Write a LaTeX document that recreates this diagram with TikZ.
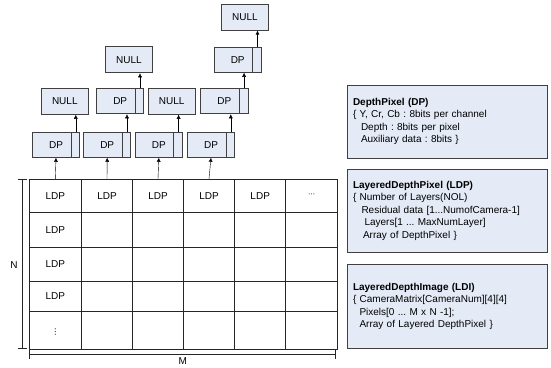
\documentclass[tikz,border=0pt]{standalone}
\usepackage{fontspec}
\setmainfont{Liberation Sans}
\newfontfamily\symfont{DejaVu Sans}
\usetikzlibrary{arrows.meta}
\definecolor{boxfill}{RGB}{228,234,246}
\definecolor{boxline}{RGB}{64,64,64}
\frenchspacing

\tikzset{
  txt/.style={font=\fontsize{10}{12.5}\selectfont},
  cellbox/.style={txt, draw=boxline, fill=boxfill, line width=0.9pt, inner sep=0pt, minimum height=25pt},
  nullbox/.style={cellbox, minimum width=47pt, minimum height=26pt},
  dpbox/.style={cellbox, minimum width=47.4pt,
    path picture={\draw[boxline, line width=0.9pt]
      ([xshift=-8.7pt]path picture bounding box.north east) --
      ([xshift=-8.7pt]path picture bounding box.south east);}},
  ldpcell/.style={txt, inner sep=0pt, minimum width=50pt, minimum height=33.3pt},
  infobox/.style={txt, draw=boxline, fill=boxfill, line width=0.9pt, align=left,
    text width=189pt, inner xsep=5.5pt, inner ysep=0pt, minimum width=200pt},
  gridline/.style={black!85, line width=0.8pt}
}

\begin{document}
\begin{tikzpicture}[x=1pt, y=1pt, >={Latex[length=4pt,width=4pt]}]
    \useasboundingbox (0,0) rectangle (551,-367);

    % LDI grid
    \foreach \x in {29.3,81.3,132.7,183.3,234.7,285.7,337.7}
        \draw[gridline] (\x,-179) -- (\x,-349);
    \foreach \y in {179,212.3,247,281.5,311.7,349}
        \draw[gridline] (29.3,-\y) -- (337.7,-\y);

    \node[ldpcell] (ldp1) at (55.3,-195.6) {LDP};
    \node[ldpcell] (ldp2) at (107,-195.6) {LDP};
    \node[ldpcell] (ldp3) at (158,-195.6) {LDP};
    \node[ldpcell] (ldp4) at (209,-195.6) {LDP};
    \node[ldpcell] (ldp5) at (260.2,-195.6) {LDP};
    \node[ldpcell] (ldpdots) at (311.7,-195.6) {\symfont\fontsize{7}{8}\selectfont ⋯};
    \node[txt] (ldprow2) at (55.3,-230) {LDP};
    \node[txt] (ldprow3) at (55.3,-264.3) {LDP};
    \node[txt] (ldprow4) at (55.3,-296.3) {LDP};
    \node[txt] (ldpvdots) at (55.3,-332) {\symfont\fontsize{8}{9}\selectfont ⋮};

    % dimensions
    \draw[gridline, {Bar[width=9pt]}-{Bar[width=9pt]}] (22.7,-179) -- (22.7,-349);
    \draw[gridline, {Bar[width=9pt]}-{Bar[width=9pt]}] (29.3,-354.5) -- (335.7,-354.5);
    \node[txt] (dimN) at (14,-265) {N};
    \node[txt] (dimM) at (182.7,-361.5) {M};

    % depth pixel lists
    \node[dpbox] (dpA1) at (56,-144.8) {DP\hspace{7pt}};
    \node[dpbox] (dpB1) at (107.2,-144.8) {DP\hspace{7pt}};
    \node[dpbox] (dpC1) at (158.8,-144.8) {DP\hspace{7pt}};
    \node[dpbox] (dpD1) at (211,-144.8) {DP\hspace{7pt}};
    \node[nullbox] (nullA2) at (64.8,-101.3) {NULL};
    \node[dpbox] (dpB2) at (120.2,-101.3) {DP\hspace{7pt}};
    \node[nullbox] (nullC2) at (171.7,-101.3) {NULL};
    \node[dpbox] (dpD2) at (224.3,-101.3) {DP\hspace{7pt}};
    \node[nullbox] (nullB3) at (129,-59.8) {NULL};
    \node[dpbox] (dpD3) at (237.7,-59.8) {DP\hspace{7pt}};
    \node[nullbox] (nullD4) at (245,-17.2) {NULL};

    \draw[->] (ldp1.north) -- (dpA1.south);
    \draw[->] (ldp2.north) -- (dpB1.south);
    \draw[->] (ldp3.north) -- (dpC1.south);
    \draw[->] (ldp4.north) -- (dpD1.south);
    \draw[->] ([xshift=-4.35pt]dpA1.north east) -- ([xshift=-4.35pt]dpA1.north east |- nullA2.south);
    \draw[->] ([xshift=-4.35pt]dpB1.north east) -- ([xshift=-4.35pt]dpB1.north east |- dpB2.south);
    \draw[->] ([xshift=-4.35pt]dpC1.north east) -- ([xshift=-4.35pt]dpC1.north east |- nullC2.south);
    \draw[->] ([xshift=-4.35pt]dpD1.north east) -- ([xshift=-4.35pt]dpD1.north east |- dpD2.south);
    \draw[->] ([xshift=-4.35pt]dpB2.north east) -- ([xshift=-4.35pt]dpB2.north east |- nullB3.south);
    \draw[->] ([xshift=-4.35pt]dpD2.north east) -- ([xshift=-4.35pt]dpD2.north east |- dpD3.south);
    \draw[->] ([xshift=-4.35pt]dpD3.north east) -- ([xshift=-4.35pt]dpD3.north east |- nullD4.south);

    % structure definitions
    \node[infobox, minimum height=73pt] (dpinfo) at (447.5,-121.5)
        {\textbf{DepthPixel (DP)}\\
         \{ Y, Cr, Cb : 8bits per channel\\
         \hspace*{8pt}Depth : 8bits per pixel\\
         \hspace*{8pt}Auxiliary data : 8bits \}};
    \node[infobox, minimum height=83.5pt] (ldpinfo) at (447.5,-210.7)
        {\textbf{LayeredDepthPixel (LDP)}\\
         \{ Number of Layers(NOL)\\
         \hspace*{8.5pt}Residual data [1...NumofCamera-1]\\
         \hspace*{11.5pt}Layers[1 ... MaxNumLayer]\\
         \hspace*{10pt}Array of DepthPixel \}};
    \node[infobox, minimum height=84pt] (ldiinfo) at (447.5,-306.4)
        {\textbf{LayeredDepthImage (LDI)}\\
         \{ CameraMatrix[CameraNum][4][4]\\
         \hspace*{6.5pt}Pixels[0 ... M x N -1];\\
         \hspace*{6.5pt}Array of Layered DepthPixel \}};
\end{tikzpicture}
\end{document}
